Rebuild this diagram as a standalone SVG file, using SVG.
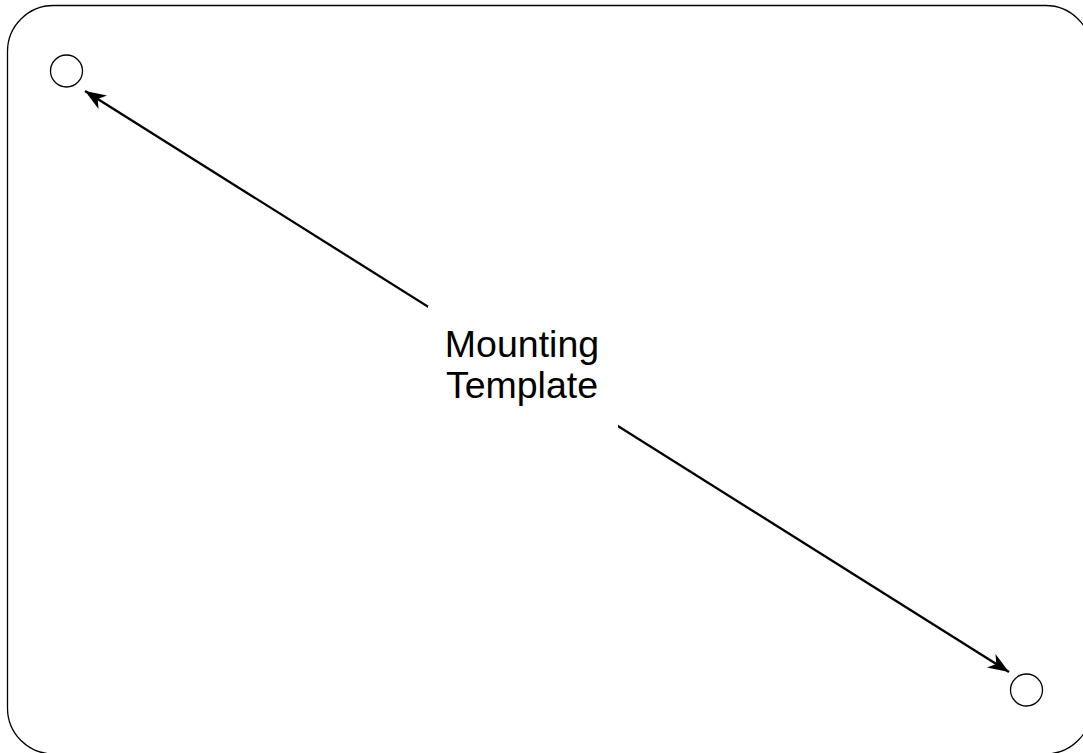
<svg xmlns="http://www.w3.org/2000/svg" width="1083" height="753" viewBox="0 0 1083 753">
  <defs>
    <style>
      .frame{fill:none;stroke:#000;stroke-width:1.3}
      .hole{fill:#fff;stroke:#000;stroke-width:1.3}
      .conn{stroke:#000;stroke-width:2.3;fill:none}
      .lbl{font-family:"Liberation Sans",Arial,sans-serif;font-size:37.5px;fill:#000;text-anchor:middle}
    </style>
    <marker id="ah" markerUnits="userSpaceOnUse" markerWidth="26" markerHeight="18" viewBox="-22 -9 24 18" refX="0" refY="0" orient="auto-start-reverse">
      <path d="M0,0 L-21,-8 L-15,0 L-21,8 Z" fill="#000"/>
    </marker>
  </defs>
  <rect width="1083" height="753" fill="#fff"/>
  <g id="frame">
    <rect class="frame" x="7.5" y="5.5" width="1084" height="748.5" rx="46" ry="46"/>
  </g>
  <g id="hole-top-left">
    <circle class="hole" cx="66.5" cy="71" r="16"/>
  </g>
  <g id="hole-bottom-right">
    <circle class="hole" cx="1026.5" cy="690" r="16"/>
  </g>
  <g id="connectors">
    <line class="conn" x1="85" y1="91" x2="1009" y2="672" marker-start="url(#ah)" marker-end="url(#ah)"/>
  </g>
  <g id="label">
    <rect x="428" y="306" width="190" height="122" fill="#fff"/>
    <text class="lbl" x="522" y="356.5">Mounting</text>
    <text class="lbl" x="522" y="398">Template</text>
  </g>
</svg>
